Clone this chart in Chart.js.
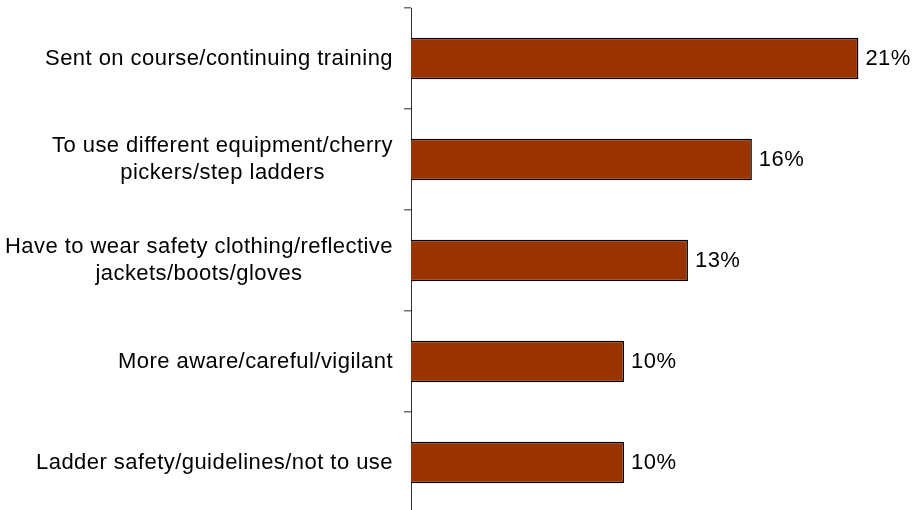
<!DOCTYPE html>
<html>
<head>
<meta charset="utf-8">
<script src="https://cdn.jsdelivr.net/npm/chart.js@4/dist/chart.umd.min.js"></script>
<style>
    html, body { margin: 0; padding: 0; background: #fff; overflow: hidden; }
    #wrap { position: relative; width: 914px; height: 514px; }
</style>
</head>
<body>
<div id="wrap"><canvas id="changesChart"></canvas></div>
<script>
const categories = [
    ['Sent on course/continuing training'],
    ['To use different equipment/cherry', 'pickers/step ladders'],
    ['Have to wear safety clothing/reflective', 'jackets/boots/gloves'],
    ['More aware/careful/vigilant'],
    ['Ladder safety/guidelines/not to use']
];
const percentages = [21, 16, 13, 10, 10];

const FONT = "22px 'Liberation Sans', Arial, sans-serif";
const LETTER_SPACING = '0.45px';
const LINE_HEIGHT = 27;
const AXIS_LEFT = 411;
const TICK_LENGTH = 7;
const LABEL_GAP = 11;

// category labels: block right aligned against the axis, lines centred inside the block
const categoryLabels = {
    id: 'categoryLabels',
    afterDraw(chart) {
        const ctx = chart.ctx;
        const yScale = chart.scales.y;
        const right = yScale.right - TICK_LENGTH - LABEL_GAP;
        ctx.save();
        ctx.font = FONT;
        ctx.letterSpacing = LETTER_SPACING;
        ctx.fillStyle = '#000';
        ctx.textAlign = 'center';
        ctx.textBaseline = 'middle';
        categories.forEach((lines, i) => {
            const widest = Math.max(...lines.map(line => ctx.measureText(line).width));
            const cx = right - widest / 2;
            const cy = yScale.getPixelForValue(i);
            const top = cy - (lines.length - 1) * LINE_HEIGHT / 2;
            lines.forEach((line, j) => ctx.fillText(line, cx, top + j * LINE_HEIGHT));
        });
        ctx.restore();
    }
};

// value text just past the end of each bar
const valueLabels = {
    id: 'valueLabels',
    afterDatasetsDraw(chart) {
        const ctx = chart.ctx;
        const meta = chart.getDatasetMeta(0);
        ctx.save();
        ctx.font = FONT;
        ctx.letterSpacing = LETTER_SPACING;
        ctx.fillStyle = '#000';
        ctx.textAlign = 'left';
        ctx.textBaseline = 'middle';
        meta.data.forEach((bar, i) => {
            ctx.fillText(percentages[i] + '%', bar.x + 7, bar.y);
        });
        ctx.restore();
    }
};

const chart = new Chart(document.querySelector('#changesChart'), {
    type: 'bar',
    data: {
        labels: categories,
        datasets: [{
            data: percentages,
            backgroundColor: '#993300',
            borderColor: '#000',
            borderWidth: 1.5,
            barPercentage: 0.41,
            categoryPercentage: 1
        }]
    },
    options: {
        indexAxis: 'y',
        responsive: true,
        maintainAspectRatio: false,
        animation: false,
        layout: { padding: { top: 8, right: 13, bottom: 1, left: 0 } },
        plugins: {
            legend: { display: false },
            tooltip: { enabled: false }
        },
        scales: {
            x: {
                display: false,
                min: 0,
                max: 23
            },
            y: {
                grid: {
                    drawOnChartArea: false,
                    drawTicks: true,
                    tickLength: TICK_LENGTH,
                    color: '#707070',
                    lineWidth: 1.5,
                    offset: true
                },
                border: { display: true, color: '#303030', width: 1 },
                ticks: { display: false },
                afterFit(scale) {
                    scale.width = AXIS_LEFT;
                }
            }
        }
    },
    plugins: [categoryLabels, valueLabels]
});
</script>
</body>
</html>
